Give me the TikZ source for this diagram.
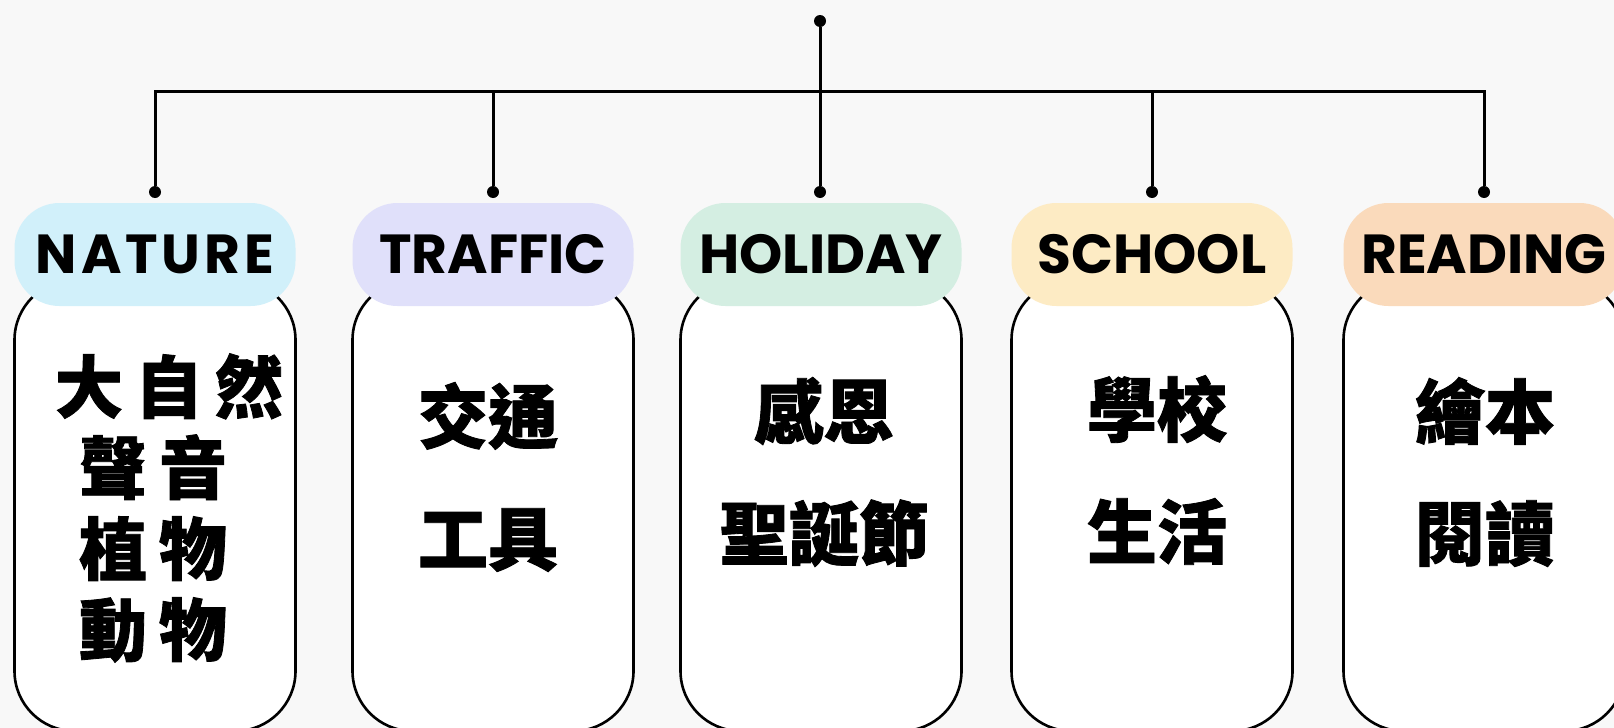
\documentclass[tikz,border=0pt]{standalone}
\usepackage{fontspec}
\newfontfamily\cjk{Noto Sans CJK TC}[BoldFeatures={FakeBold=1.2}]
\newfontfamily\lbl{Poppins}
\definecolor{bg}{HTML}{F8F8F8}
\definecolor{cnature}{RGB}{209,240,250}
\definecolor{ctraffic}{RGB}{224,224,250}
\definecolor{choliday}{RGB}{212,238,226}
\definecolor{cschool}{RGB}{253,235,196}
\definecolor{creading}{RGB}{250,218,187}
\newcommand{\gp}{\hspace{12pt}}
\tikzset{
  pill/.style={rounded corners=45pt, minimum width=281pt, minimum height=103pt, inner sep=0pt,
    font=\lbl\bfseries\fontsize{55}{55}\selectfont, text=black},
  jar/.style={draw=black, line width=2.6pt, fill=white, rounded corners=60pt,
    minimum width=281pt, minimum height=451pt, inner sep=0pt},
  conn/.style={line width=3pt, draw=black},
  dotnode/.style={circle, fill=black, inner sep=0pt, minimum size=12pt},
  cjktwo/.style={font=\cjk\bfseries\fontsize{70}{122}\selectfont, align=center, inner sep=0pt},
  cjkfour/.style={font=\cjk\bfseries\fontsize{68}{81}\selectfont, align=center, inner sep=0pt}
}
\begin{document}
\begin{tikzpicture}[x=1pt,y=-1pt]
\fill[bg] (0,0) rectangle (1614,728);
\useasboundingbox (0,0) rectangle (1614,728);

% jars
\node[jar] (b1) at (155,505.5) {};
\node[jar] (b2) at (493,505.5) {};
\node[jar] (b3) at (821,505.5) {};
\node[jar] (b4) at (1152,505.5) {};
\node[jar] (b5) at (1484,505.5) {};

% pills
\node[pill, fill=cnature] (p1) at (155,254.5) {\addfontfeature{LetterSpace=7}NATURE\hspace{-3.8pt}};
\node[pill, fill=ctraffic] (p2) at (493,254.5) {TRAFFIC};
\node[pill, fill=choliday] (p3) at (821,254.5) {HOLIDAY};
\node[pill, fill=cschool] (p4) at (1152,254.5) {SCHOOL};
\node[pill, fill=creading] (p5) at (1484,254.5) {READING};

% texts
\node[cjkfour] (t1) at (153,508) {\hspace*{32pt}大\gp 自\gp 然\\聲\gp 音\\植\gp 物\\動\gp 物};
\node[cjktwo] (t2) at (488,477) {交通\\工具};
\node[cjktwo] (t3) at (824,472) {感恩\\聖誕節};
\node[cjktwo] (t4) at (1157,470) {學校\\生活};
\node[cjktwo] (t5) at (1485,472) {繪本\\閱讀};

% dots and connectors
\node[dotnode] (root) at (820,21) {};
\node[dotnode] (d1) at (155,192) {};
\node[dotnode] (d2) at (493,192) {};
\node[dotnode] (d3) at (820,192) {};
\node[dotnode] (d4) at (1152,192) {};
\node[dotnode] (d5) at (1484,192) {};
\coordinate (barL) at (155,91);
\coordinate (barR) at (1484,91);
\draw[conn] (root) -- (d3);
\draw[conn] (d1) -- (barL) -- (barR) -- (d5);
\draw[conn] (d2) -- (d2 |- barL);
\draw[conn] (d4) -- (d4 |- barL);
\end{tikzpicture}
\end{document}
